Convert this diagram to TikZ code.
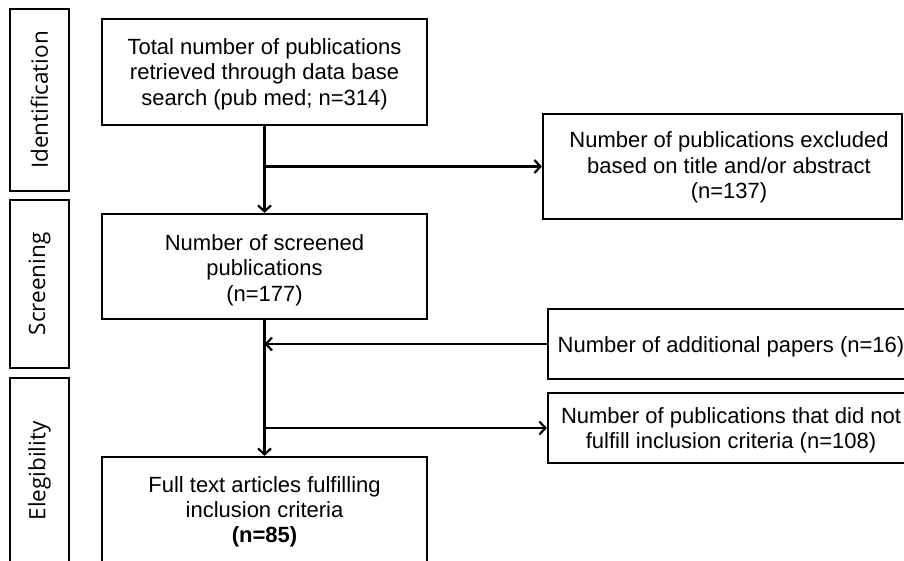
\documentclass[tikz,border=0pt]{standalone}
\usepackage{fontspec}
\setmainfont{Liberation Sans}
\newfontfamily\phasefont{Open Sans}
\usetikzlibrary{arrows.meta}
\begin{document}
\begin{tikzpicture}[x=1pt,y=-1pt,
  box/.style={draw, line width=2.2pt, inner sep=0pt},
  txt/.style={align=center, inner sep=0pt, font=\fontsize{22}{25.3}\selectfont},
  phase/.style={draw, line width=2.2pt, rotate=90, inner sep=0pt, font=\phasefont\fontsize{22.5}{26}\selectfont},
  flow/.style={line width=2.2pt, -{Straight Barb[length=6pt,width=13pt]}}]
\useasboundingbox (0,0) rectangle (904,560);
\clip (0,0) rectangle (904,560);
% phase labels
\node[phase, minimum width=182, minimum height=59] (id) at (39.5,100) {Identification};
\node[phase, minimum width=168, minimum height=59] (sc) at (39.5,284) {Screening};
\node[phase, minimum width=186, minimum height=59] (el) at (39.5,471) {Elegibility};
% main boxes
\node[box, minimum width=325, minimum height=106,
  label={[name=totT, txt, yshift=-2.8pt]center:{\strut Total number of publications\\\strut retrieved through data base\\\strut search (pub med; n=314)}}] (tot) at (264.5,72) {};
\node[box, minimum width=325, minimum height=105,
  label={[name=scrT, txt, yshift=-4.2pt]center:{\strut Number of screened\\\strut publications\\\strut (n=177)}}] (scr) at (264.5,266.5) {};
\node[box, minimum width=325, minimum height=110,
  label={[name=fullT, txt, yshift=-0.5pt]center:{\strut Full text articles fulfilling\\\strut inclusion criteria\\\strut\textbf{(n=85)}}}] (full) at (264.5,512) {};
% side boxes
\node[box, minimum width=359, minimum height=105,
  label={[name=exclT, txt, yshift=-1.5pt, xshift=6.5pt]center:{\strut Number of publications excluded\\\strut based on title and/or abstract\\\strut (n=137)}}] (excl) at (722.5,166.5) {};
\node[box, minimum width=366, minimum height=70,
  label={[name=addT, txt, yshift=-3.8pt]center:{\strut Number of additional papers (n=16)}}] (add) at (731,344) {};
\node[box, minimum width=366, minimum height=70,
  label={[name=nfT, txt, yshift=-3pt]center:{\strut Number of publications that did not\\\strut fulfill inclusion criteria (n=108)}}] (nf) at (731,428) {};
% junctions
\coordinate (j1) at (tot.south |- excl.west);
\coordinate (j2) at (tot.south |- add.west);
\coordinate (j3) at (tot.south |- nf.west);
% connectors
\draw[flow] (tot) -- (scr);
\draw[flow] (j1) -- (excl);
\draw[flow] (scr) -- (full);
\draw[flow] (add) -- (j2);
\draw[flow] (j3) -- (nf);
\end{tikzpicture}
\end{document}
